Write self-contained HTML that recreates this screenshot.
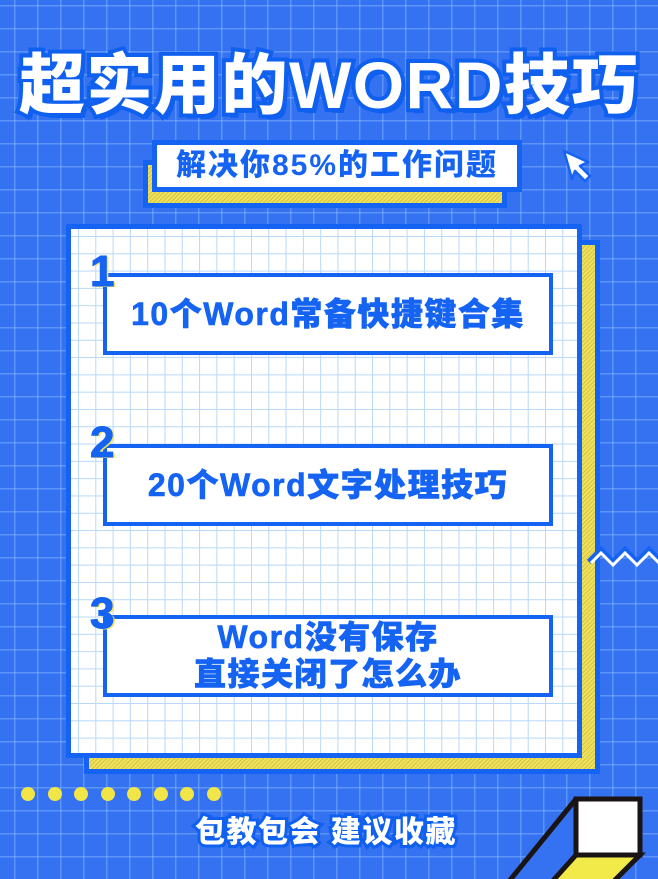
<!DOCTYPE html>
<html><head><meta charset="utf-8"><style>
*{margin:0;padding:0;box-sizing:border-box}
body{width:658px;height:879px;overflow:hidden;position:relative;background:#3572f2;
background-image:linear-gradient(to right,rgba(140,190,255,.45) 1.5px,transparent 1.5px),linear-gradient(to bottom,rgba(140,190,255,.45) 1.5px,transparent 1.5px);
background-size:23px 23px;background-position:14px 5px;
font-family:"Liberation Sans","Noto Sans CJK SC",sans-serif;font-weight:bold}
.abs{position:absolute}
.title{left:0;width:658px;top:40px;text-align:center;font-size:66px;font-weight:900;color:#fff;line-height:90px;
-webkit-text-stroke:8px #1060f0;paint-order:stroke fill;text-shadow:4px 5px 0 #1060f0;letter-spacing:1.5px}
.yel{background:#f0e25a;background-image:repeating-linear-gradient(135deg,rgba(160,140,40,.35) 0 1px,transparent 1px 3px);border:5px solid #1563f2}
.panel{left:66px;top:224px;width:516px;height:534px;border:5px solid #1563f2;background:#fff;
background-image:linear-gradient(to right,#b8d8f6 1px,transparent 1px),linear-gradient(to bottom,#b8d8f6 1px,transparent 1px);background-size:17.3px 17.3px;background-position:7px 7px}
.box{left:103px;width:450px;height:82px;border:4px solid #1563f2;background:#fff;color:#1563f2;font-size:32px;text-align:center;display:flex;align-items:center;justify-content:center;line-height:37px;letter-spacing:1.5px;font-weight:900;-webkit-text-stroke:.6px #1563f2}
.num{left:90px;font-size:44px;font-weight:900;color:#1563f2;text-shadow:2px 1px 0 #f0e25a;-webkit-text-stroke:1px #1563f2;line-height:44px}
.dot{width:14px;height:14px;border-radius:50%;background:#f2e548;top:787px}
</style></head><body>
<div class="abs title">超实用的WORD技巧</div>
<div class="abs yel" style="left:143px;top:160px;width:364px;height:48px"></div>
<div class="abs" style="left:152px;top:140px;width:370px;height:52px;border:5px solid #1563f2;background:#fff;color:#1563f2;font-size:30px;text-align:center;line-height:42px;font-weight:900;letter-spacing:2px">解决你85%的工作问题</div>
<svg class="abs" style="left:560px;top:148px" width="40" height="40" viewBox="0 0 40 40"><path d="M4 3 L28 14 L20 18 L30 28 L25 33 L15 23 L12 31 Z" fill="#fff" stroke="#1563f2" stroke-width="2.5" stroke-linejoin="round"/></svg>
<div class="abs yel" style="left:84px;top:240px;width:516px;height:534px"></div>
<div class="abs panel"></div>
<div class="abs box" style="top:273px">10个Word常备快捷键合集</div>
<div class="abs num" style="top:250px">1</div>
<div class="abs box" style="top:444px">20个Word文字处理技巧</div>
<div class="abs num" style="top:421px">2</div>
<div class="abs box" style="top:615px">Word没有保存<br>直接关闭了怎么办</div>
<div class="abs num" style="top:592px">3</div>
<svg class="abs" style="left:585px;top:540px" width="73" height="30"><path d="M4 22 L16 10 L28 22 L40 10 L52 22 L64 10 L76 22" fill="none" stroke="#1563f2" stroke-width="6"/><path d="M6 20 L16 10 L28 22 L40 10 L52 22 L64 10 L76 22" fill="none" stroke="#fff" stroke-width="3" transform="translate(0,3)"/></svg>
<div class="abs dot" style="left:21px"></div><div class="abs dot" style="left:48px"></div><div class="abs dot" style="left:74px"></div><div class="abs dot" style="left:101px"></div><div class="abs dot" style="left:127px"></div><div class="abs dot" style="left:154px"></div><div class="abs dot" style="left:180px"></div><div class="abs dot" style="left:207px"></div>
<div class="abs" style="left:195px;top:807px;font-size:30px;color:#fff;font-weight:900;-webkit-text-stroke:6px #1060f0;paint-order:stroke fill;text-shadow:2px 3px 0 #1060f0;white-space:nowrap;letter-spacing:1.5px">包教包会 建议收藏</div>
<svg class="abs" style="left:480px;top:795px" width="178" height="84" viewBox="0 0 178 84">
<path d="M96 4 L160 4 L160 60 L120 100 L20 100 Z" fill="#3572f2"/>
<path d="M96 4 L26 90" stroke="#1a1414" stroke-width="5"/>
<path d="M96 60 L160 60 L120 100 L60 100 Z" fill="#f2ea48" stroke="#1a1414" stroke-width="5"/>
<rect x="96" y="4" width="64" height="56" fill="#fff" stroke="#1a1414" stroke-width="5"/>
</svg>
</body></html>
